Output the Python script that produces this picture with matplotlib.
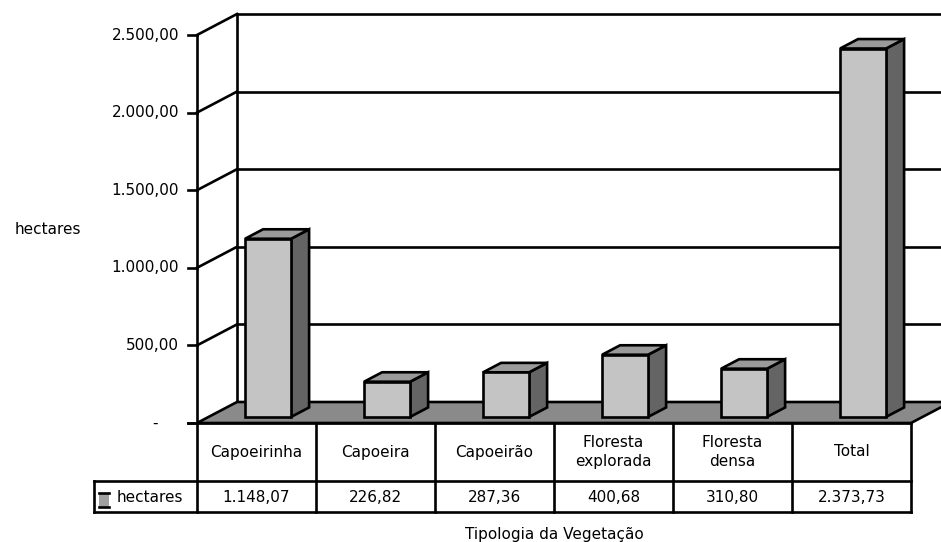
import matplotlib
matplotlib.use('Agg')
import matplotlib.pyplot as plt
from matplotlib.patches import Polygon, Rectangle

categories = ["Capoeirinha", "Capoeira", "Capoeirão", "Floresta\nexplorada", "Floresta\ndensa", "Total"]
values = [1148.07, 226.82, 287.36, 400.68, 310.80, 2373.73]
value_labels = ["1.148,07", "226,82", "287,36", "400,68", "310,80", "2.373,73"]
yticks = [0, 500, 1000, 1500, 2000, 2500]
ytick_labels = ["-", "500,00", "1.000,00", "1.500,00", "2.000,00", "2.500,00"]
series_name = "hectares"
ylabel = "hectares"
xlabel = "Tipologia da Vegetação"

plt.rcParams['font.family'] = ['DejaVu Sans']
FS = 11

W, H = 941, 542
fig = plt.figure(figsize=(W / 100, H / 100), dpi=100)
fig.patch.set_facecolor('white')
X0, Y0 = 197, 423
PW, PH = 714, 388
ax = fig.add_axes([X0 / W, (H - Y0) / H, PW / W, PH / H])
n = len(categories)
ymax = yticks[-1]
ax.set_xlim(0, n)
ax.set_ylim(0, ymax)
ax.axis('off')

sx = PW / n
sy = PH / ymax
def ux(px): return px / sx
def uy(px): return px / sy

DX, DY = ux(40), uy(21)
LW = 1.9
K = 'black'
FRONT, SIDE, TOP, FLOOR = '#c4c4c4', '#646464', '#9a9a9a', '#8a8a8a'

def line(xs, ys, z=1):
    ax.plot(xs, ys, color=K, lw=LW, clip_on=False, zorder=z, solid_capstyle='projecting')

# walls
for v in yticks[1:]:
    line([DX, n + 2], [v + DY, v + DY])
    line([0, DX], [v, v + DY])
for v in yticks:
    line([-ux(9), 0], [v, v])
line([DX, DX], [DY, ymax + DY])
line([0, 0], [0, ymax])

# floor
ax.add_patch(Polygon([(0, 0), (n, 0), (n + DX, DY), (DX, DY)], closed=True,
                     fc=FLOOR, ec=K, lw=LW, clip_on=False, zorder=2))

# bars
f0, f1 = 0.29, 0.74
bw = ux(46)
b = f0 * DY
ddx, ddy = (f1 - f0) * DX, (f1 - f0) * DY
xc = [i + 0.5 + f0 * DX for i in range(n)]
ax.bar(xc, values, width=bw, bottom=b, color=FRONT, edgecolor=K, lw=LW,
       clip_on=False, zorder=4)
for x, v in zip(xc, values):
    xl, xr = x - bw / 2, x + bw / 2
    ax.add_patch(Polygon([(xr, b), (xr + ddx, b + ddy), (xr + ddx, b + v + ddy), (xr, b + v)],
                         closed=True, fc=SIDE, ec=K, lw=LW, clip_on=False, zorder=3.9))
    ax.add_patch(Polygon([(xl, b + v), (xr, b + v), (xr + ddx, b + v + ddy), (xl + ddx, b + v + ddy)],
                         closed=True, fc=TOP, ec=K, lw=LW, clip_on=False, zorder=3.9))

# y tick labels
for v, lab in zip(yticks, ytick_labels):
    off = ux(39) if lab == "-" else ux(18)
    ax.text(-off, v, lab, ha='right', va='center', fontsize=FS, clip_on=False)
ax.text(-ux(149), uy(194), ylabel, ha='center', va='center', fontsize=FS, clip_on=False)

# data table
r1, r2 = -uy(58), -uy(89)
legx = -ux(103)
line([-ux(9), n], [0, 0], z=5)
line([legx, n], [r1, r1], z=5)
line([legx, n], [r2, r2], z=5)
line([legx, legx], [r1, r2], z=5)
for i in range(n + 1):
    line([i, i], [0, r2], z=5)
for i, (c, vl) in enumerate(zip(categories, value_labels)):
    ax.text(i + 0.5, r1 / 2, c, ha='center', va='center', fontsize=FS,
            linespacing=1.35, clip_on=False)
    ax.text(i + 0.5, (r1 + r2) / 2 - uy(1), vl, ha='center', va='center', fontsize=FS, clip_on=False)

# legend key
kx0, kx1 = legx + ux(5), legx + ux(15)
ky0, ky1 = r1 - uy(12), r2 + uy(5)
ax.add_patch(Rectangle((kx0, ky1), kx1 - kx0, ky0 - ky1, fc='#a0a0a0', ec='none',
                       clip_on=False, zorder=5))
line([kx0, kx1], [ky0, ky0], z=6)
line([kx0, kx1], [ky1, ky1], z=6)
ax.text(legx + ux(23), (r1 + r2) / 2 - uy(1), series_name, ha='left', va='center',
        fontsize=FS, clip_on=False)

# x axis title
ax.text(n / 2, -uy(111), xlabel, ha='center', va='center', fontsize=FS, clip_on=False)

fig.savefig('out.png', dpi=100, facecolor='white')
